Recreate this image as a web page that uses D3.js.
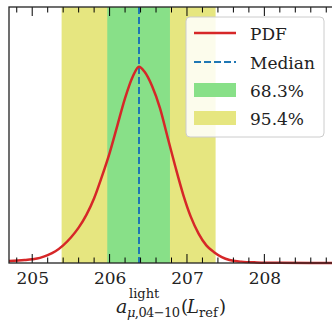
<!DOCTYPE html>
<html lang="en">
<head>
<meta charset="UTF-8">
<title>PDF</title>
<script src="https://d3js.org/d3.v7.min.js"></script>
<style>
  body { margin: 0; background: #fff; }
  svg text { font-family: "DejaVu Serif", serif; fill: #222; }
</style>
</head>
<body>
<svg id="main" width="332" height="321"></svg>
<script>
// values (density scaled so the peak is 1)
const pdfX = [204.7, 204.9, 205.0, 205.1, 205.2, 205.3, 205.4, 205.5, 205.6, 205.7,
              205.8, 205.9, 206.0, 206.1, 206.2, 206.3, 206.38, 206.45, 206.55, 206.65,
              206.75, 206.85, 206.95, 207.05, 207.15, 207.25, 207.35, 207.45, 207.55, 207.7,
              207.9, 208.2, 208.9];
const pdfY = [0.010, 0.015, 0.019, 0.026, 0.040, 0.060, 0.090, 0.130, 0.180, 0.245,
              0.330, 0.440, 0.560, 0.700, 0.840, 0.950, 1.000, 0.975, 0.900, 0.790,
              0.640, 0.490, 0.350, 0.235, 0.150, 0.090, 0.055, 0.030, 0.015, 0.007,
              0.003, 0.001, 0.000];
const band68 = [205.97, 206.78];
const band95 = [205.38, 207.37];
const median = 206.38;
const majorTicks = [205, 206, 207, 208];
const minorTicks = d3.range(0, 21).map(i => +(204.8 + i * 0.2).toFixed(1));
const legendLabels = ["PDF", "Median", "68.3%", "95.4%"];

const red = "#d62728", blue = "#1f77b4", green = "#88e088", yellow = "#e6e680";

const mLeft = 9, mRight = 334, mTop = 7, mBottom = 263;
const svg = d3.select("svg#main");

const x = d3.scaleLinear().domain([204.7, 208.9]).range([mLeft, mRight]);
const y = d3.scaleLinear().domain([0, 1.304]).range([mBottom, mTop]);

// confidence bands
svg.append("rect")
  .attr("x", x(band95[0])).attr("y", mTop)
  .attr("width", x(band95[1]) - x(band95[0])).attr("height", mBottom - mTop)
  .attr("fill", yellow);
svg.append("rect")
  .attr("x", x(band68[0])).attr("y", mTop)
  .attr("width", x(band68[1]) - x(band68[0])).attr("height", mBottom - mTop)
  .attr("fill", green);

// median
svg.append("line")
  .attr("x1", x(median)).attr("x2", x(median))
  .attr("y1", mTop).attr("y2", mBottom)
  .attr("stroke", blue).attr("stroke-width", 2)
  .attr("stroke-dasharray", "7,3");

// pdf curve
const pts = pdfX.map((v, i) => [v, pdfY[i]]);
const line = d3.line()
  .x(d => x(d[0]))
  .y(d => y(d[1]))
  .curve(d3.curveMonotoneX);
svg.append("path")
  .attr("d", line(pts))
  .attr("fill", "none")
  .attr("stroke", red)
  .attr("stroke-width", 2.5);

// ticks, inward on top and bottom
function drawTicks(vals, len) {
  vals.forEach(v => {
    svg.append("line").attr("x1", x(v)).attr("x2", x(v))
      .attr("y1", mBottom).attr("y2", mBottom - len)
      .attr("stroke", "#000").attr("stroke-width", 1);
    svg.append("line").attr("x1", x(v)).attr("x2", x(v))
      .attr("y1", mTop).attr("y2", mTop + len)
      .attr("stroke", "#000").attr("stroke-width", 1);
  });
}
drawTicks(minorTicks.filter(v => !majorTicks.includes(v)), 5.5);
drawTicks(majorTicks, 9);

// spines
svg.append("rect")
  .attr("x", mLeft).attr("y", mTop)
  .attr("width", mRight - mLeft).attr("height", mBottom - mTop)
  .attr("fill", "none").attr("stroke", "#222").attr("stroke-width", 1.3);

// tick labels
const bAxis = d3.axisBottom(x).tickValues(majorTicks).tickSize(0).tickFormat(d3.format("d"));
const gx = svg.append("g").attr("transform", `translate(0,${mBottom})`).call(bAxis);
gx.select(".domain").remove();
gx.attr("font-family", null);
gx.selectAll("text")
  .attr("y", 21)
  .attr("dy", 0)
  .style("font-size", "17px")
  .attr("fill", "#222");

// x label: a^{light}_{mu,04-10}(L_ref)
const lab = svg.append("g");
lab.append("text").attr("x", 116).attr("y", 313)
  .style("font-size", "19px").style("font-style", "italic").text("a");
lab.append("text").attr("x", 129).attr("y", 298)
  .style("font-size", "13px").text("light");
const sub = lab.append("text").attr("x", 127).attr("y", 317)
  .attr("textLength", 53).style("font-size", "13px");
sub.append("tspan").style("font-style", "italic").text("μ");
sub.append("tspan").text(",04−10");
lab.append("text").attr("x", 181).attr("y", 313)
  .style("font-size", "18px").text("(");
lab.append("text").attr("x", 187).attr("y", 313)
  .style("font-size", "18px").style("font-style", "italic").text("L");
lab.append("text").attr("x", 199).attr("y", 317)
  .style("font-size", "13px").text("ref");
lab.append("text").attr("x", 219).attr("y", 313)
  .style("font-size", "18px").text(")");

// legend
const lg = svg.append("g");
lg.append("rect")
  .attr("x", 186).attr("y", 17).attr("width", 138).attr("height", 120)
  .attr("rx", 4)
  .attr("fill", "#fff").attr("fill-opacity", 0.85)
  .attr("stroke", "#ccc").attr("stroke-width", 1);
const rowY = [33, 62, 90, 118];
lg.append("line").attr("x1", 194).attr("x2", 236).attr("y1", rowY[0]).attr("y2", rowY[0])
  .attr("stroke", red).attr("stroke-width", 2.5);
lg.append("line").attr("x1", 194).attr("x2", 236).attr("y1", rowY[1]).attr("y2", rowY[1])
  .attr("stroke", blue).attr("stroke-width", 2).attr("stroke-dasharray", "7,3");
lg.append("rect").attr("x", 194).attr("y", rowY[2] - 7).attr("width", 42).attr("height", 14)
  .attr("fill", green);
lg.append("rect").attr("x", 194).attr("y", rowY[3] - 7).attr("width", 42).attr("height", 14)
  .attr("fill", yellow);
lg.selectAll("text.lab")
  .data(legendLabels)
  .enter()
  .append("text")
  .attr("class", "lab")
  .attr("x", 250)
  .attr("y", (d, i) => rowY[i] + 6.5)
  .style("font-size", "17px")
  .text(d => d);
</script>
</body>
</html>
